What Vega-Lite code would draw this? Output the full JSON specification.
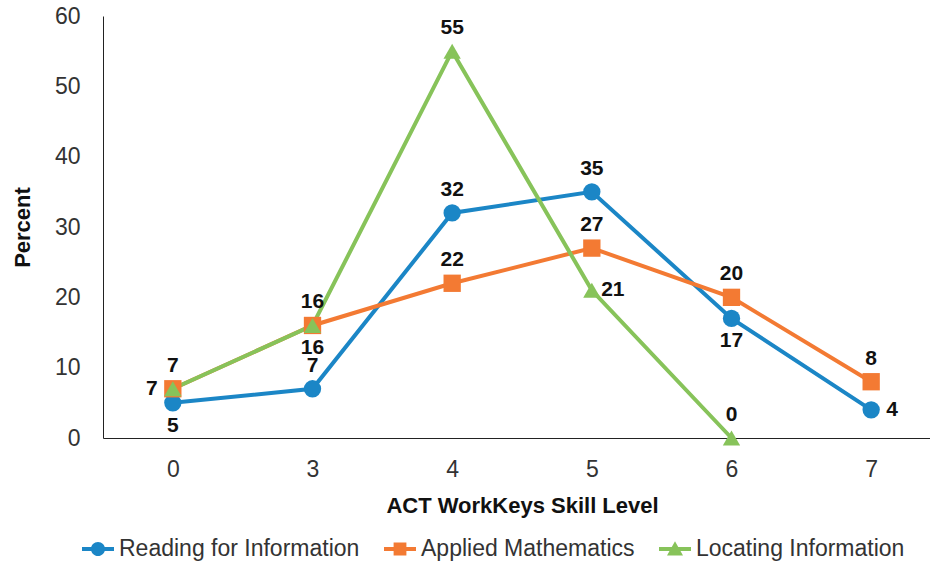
{
  "$schema": "https://vega.github.io/schema/vega-lite/v6.json",
  "width": 838,
  "height": 422,
  "autosize": {"type": "none"},
  "padding": {"left": 103, "top": 16, "right": 0, "bottom": 124},
  "background": "white",
  "config": {
    "view": {"stroke": null},
    "font": "Liberation Sans"
  },
  "data": {
    "values": [
      {"series": "Reading for Information", "level": 0, "percent": 5},
      {"series": "Reading for Information", "level": 3, "percent": 7},
      {"series": "Reading for Information", "level": 4, "percent": 32},
      {"series": "Reading for Information", "level": 5, "percent": 35},
      {"series": "Reading for Information", "level": 6, "percent": 17},
      {"series": "Reading for Information", "level": 7, "percent": 4},
      {"series": "Applied Mathematics", "level": 0, "percent": 7},
      {"series": "Applied Mathematics", "level": 3, "percent": 16},
      {"series": "Applied Mathematics", "level": 4, "percent": 22},
      {"series": "Applied Mathematics", "level": 5, "percent": 27},
      {"series": "Applied Mathematics", "level": 6, "percent": 20},
      {"series": "Applied Mathematics", "level": 7, "percent": 8},
      {"series": "Locating Information", "level": 0, "percent": 7},
      {"series": "Locating Information", "level": 3, "percent": 16},
      {"series": "Locating Information", "level": 4, "percent": 55},
      {"series": "Locating Information", "level": 5, "percent": 21},
      {"series": "Locating Information", "level": 6, "percent": 0}
    ]
  },
  "encoding": {
    "x": {
      "field": "level",
      "type": "ordinal",
      "scale": {"type": "point", "padding": 0.5},
      "axis": {
        "title": "ACT WorkKeys Skill Level",
        "labelAngle": 0,
        "ticks": false,
        "tickSize": 0,
        "grid": false,
        "domainColor": "#222222",
        "domainWidth": 1,
        "labelFontSize": 23,
        "labelColor": "#333333",
        "labelPadding": 20,
        "titleFontSize": 22,
        "titleFontWeight": "bold",
        "titleColor": "#111111",
        "titleBaseline": "alphabetic",
        "titleY": 74
      }
    },
    "y": {
      "field": "percent",
      "type": "quantitative",
      "scale": {"domain": [0, 60], "nice": false},
      "axis": {
        "title": "Percent",
        "values": [0, 10, 20, 30, 40, 50, 60],
        "ticks": false,
        "tickSize": 0,
        "grid": false,
        "domainColor": "#222222",
        "domainWidth": 1,
        "labelFontSize": 23,
        "labelColor": "#333333",
        "labelPadding": 23,
        "titleFontSize": 22,
        "titleFontWeight": "bold",
        "titleColor": "#111111",
        "titleAngle": -90,
        "titleBaseline": "alphabetic",
        "titleAlign": "center",
        "titleX": -74,
        "titleY": 211
      }
    }
  },
  "layer": [
    {
      "mark": {"type": "line", "strokeWidth": 4},
      "encoding": {
        "color": {
          "field": "series",
          "type": "nominal",
          "scale": {
            "domain": ["Reading for Information", "Applied Mathematics", "Locating Information"],
            "range": ["#1b86c6", "#f37a33", "#87c35a"]
          },
          "legend": {
            "title": null,
            "orient": "none",
            "direction": "horizontal",
            "legendX": -21,
            "legendY": 517,
            "symbolSize": 1024,
            "labelFontSize": 23,
            "labelColor": "#333333",
            "labelOffset": 5,
            "labelLimit": 400,
            "columnPadding": 24,
            "encode": {
              "symbols": {
                "update": {
                  "shape": {"signal": "datum.value == 'Reading for Information' ? 'M-1,-0.125H1V0.125H-1Z M0.44,0A0.44,0.44 0 1,1 -0.44,0A0.44,0.44 0 1,1 0.44,0Z' : datum.value == 'Applied Mathematics' ? 'M-1,-0.125H1V0.125H-1Z M-0.4,-0.4H0.4V0.4H-0.4Z' : 'M-1,-0.125H1V0.125H-1Z M0,-0.48L0.5,0.4L-0.5,0.4Z'"},
                  "fill": {"scale": "color", "field": "value"},
                  "stroke": {"value": "transparent"},
                  "strokeWidth": {"value": 0},
                  "opacity": {"value": 1}
                }
              }
            }
          }
        }
      }
    },
    {
      "transform": [{"filter": "datum.series == 'Reading for Information'"}],
      "mark": {"type": "point", "shape": "circle", "filled": true, "size": 300, "opacity": 1},
      "encoding": {"color": {"field": "series", "type": "nominal"}}
    },
    {
      "transform": [{"filter": "datum.series == 'Applied Mathematics'"}],
      "mark": {"type": "point", "shape": "square", "filled": true, "size": 300, "opacity": 1},
      "encoding": {"color": {"field": "series", "type": "nominal"}}
    },
    {
      "transform": [{"filter": "datum.series == 'Locating Information'"}],
      "mark": {"type": "point", "shape": "triangle-up", "filled": true, "size": 300, "opacity": 1},
      "encoding": {"color": {"field": "series", "type": "nominal"}}
    },
    {
      "transform": [
        {"filter": "!((datum.series == 'Reading for Information' && (datum.level == 0 || datum.level == 6 || datum.level == 7)) || (datum.series == 'Locating Information' && (datum.level == 0 || datum.level == 3 || datum.level == 5)))"}
      ],
      "mark": {"type": "text", "dy": -23, "fontSize": 21, "fontWeight": "bold", "color": "#111111", "baseline": "middle"},
      "encoding": {"text": {"field": "percent", "type": "quantitative"}}
    },
    {
      "transform": [
        {"filter": "(datum.series == 'Reading for Information' && (datum.level == 0 || datum.level == 6)) || (datum.series == 'Locating Information' && datum.level == 3)"}
      ],
      "mark": {"type": "text", "dy": 23, "fontSize": 21, "fontWeight": "bold", "color": "#111111", "baseline": "middle"},
      "encoding": {"text": {"field": "percent", "type": "quantitative"}}
    },
    {
      "transform": [
        {"filter": "(datum.series == 'Reading for Information' && datum.level == 7) || (datum.series == 'Locating Information' && datum.level == 5)"}
      ],
      "mark": {"type": "text", "dx": 21, "fontSize": 21, "fontWeight": "bold", "color": "#111111", "baseline": "middle", "align": "center"},
      "encoding": {"text": {"field": "percent", "type": "quantitative"}}
    },
    {
      "transform": [
        {"filter": "datum.series == 'Locating Information' && datum.level == 0"}
      ],
      "mark": {"type": "text", "dx": -21, "fontSize": 21, "fontWeight": "bold", "color": "#111111", "baseline": "middle", "align": "center"},
      "encoding": {"text": {"field": "percent", "type": "quantitative"}}
    }
  ]
}
